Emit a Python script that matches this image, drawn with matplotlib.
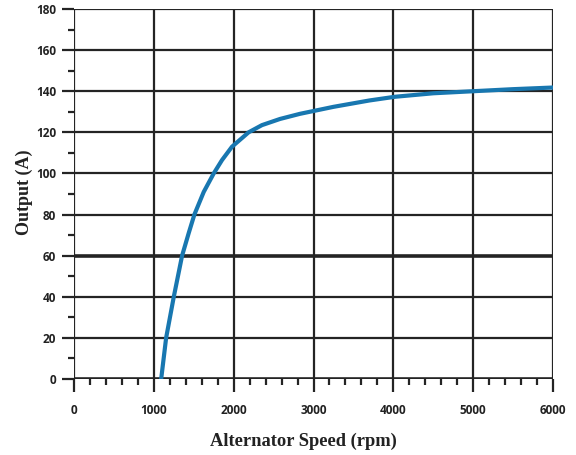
import matplotlib
matplotlib.use("Agg")
import matplotlib.pyplot as plt
from matplotlib.ticker import MultipleLocator

speed_rpm = [1092, 1154, 1250, 1354, 1437, 1508, 1625, 1750, 1854, 1979, 2187, 2354,
             2580, 2830, 3250, 3700, 4020, 4500, 5000, 5500, 6000]
output_a = [0, 20, 40, 60, 71, 80, 91, 100, 106.5, 113, 120, 123.5,
            126.5, 129, 132.4, 135.5, 137.3, 139, 140, 141, 141.8]

x_ticks = [0, 1000, 2000, 3000, 4000, 5000, 6000]
y_ticks = [0, 20, 40, 60, 80, 100, 120, 140, 160, 180]

fig = plt.figure(figsize=(5.76, 4.55), dpi=100)
ax = fig.add_axes([74/576, 1-379/455, (553-74)/576, (379-9)/455])

grid_c = "#242424"
ax.set_xlim(0, 6000)
ax.set_ylim(0, 180)
for v in x_ticks:
    ax.axvline(v, color=grid_c, lw=1.6, zorder=1)
for v in y_ticks:
    lw = 2.6 if v in (0, 60) else 1.6
    ax.axhline(v, color=grid_c, lw=lw, zorder=1)

ax.plot(speed_rpm, output_a, color="#1877b0", lw=3.0, solid_capstyle="round",
        solid_joinstyle="round", zorder=3)

for s in ax.spines.values():
    s.set_visible(False)

ax.set_xticks(x_ticks)
ax.set_yticks(y_ticks)
ax.xaxis.set_minor_locator(MultipleLocator(200))
ax.yaxis.set_minor_locator(MultipleLocator(10))
ax.tick_params(axis="both", which="major", direction="out", length=9, width=1.6,
               color=grid_c, labelsize=8.5, labelcolor="#222222", pad=4)
ax.tick_params(axis="both", which="minor", direction="out", length=4, width=1.6,
               color=grid_c)
for lab in ax.get_xticklabels() + ax.get_yticklabels():
    lab.set_fontweight("bold")
    lab.set_family("Open Sans")
ax.tick_params(axis="x", which="major", pad=9)

ax.set_xlabel("Alternator Speed (rpm)", family="Liberation Serif", fontweight="bold",
              fontsize=13.3, color="#222222", labelpad=12)
ax.xaxis.set_label_coords((303.5 - 74) / 479, -(441 - 379) / 370, transform=ax.transAxes)
ax.xaxis.label.set_va("center")
ax.set_ylabel("Output (A)", family="Liberation Serif", fontweight="bold",
              fontsize=13, color="#222222", labelpad=0)
ax.yaxis.set_label_coords(-(74 - 24.5) / 479, (379 - 192) / 370, transform=ax.transAxes)
ax.yaxis.label.set_va("center")

fig.savefig("out.png", dpi=100)
